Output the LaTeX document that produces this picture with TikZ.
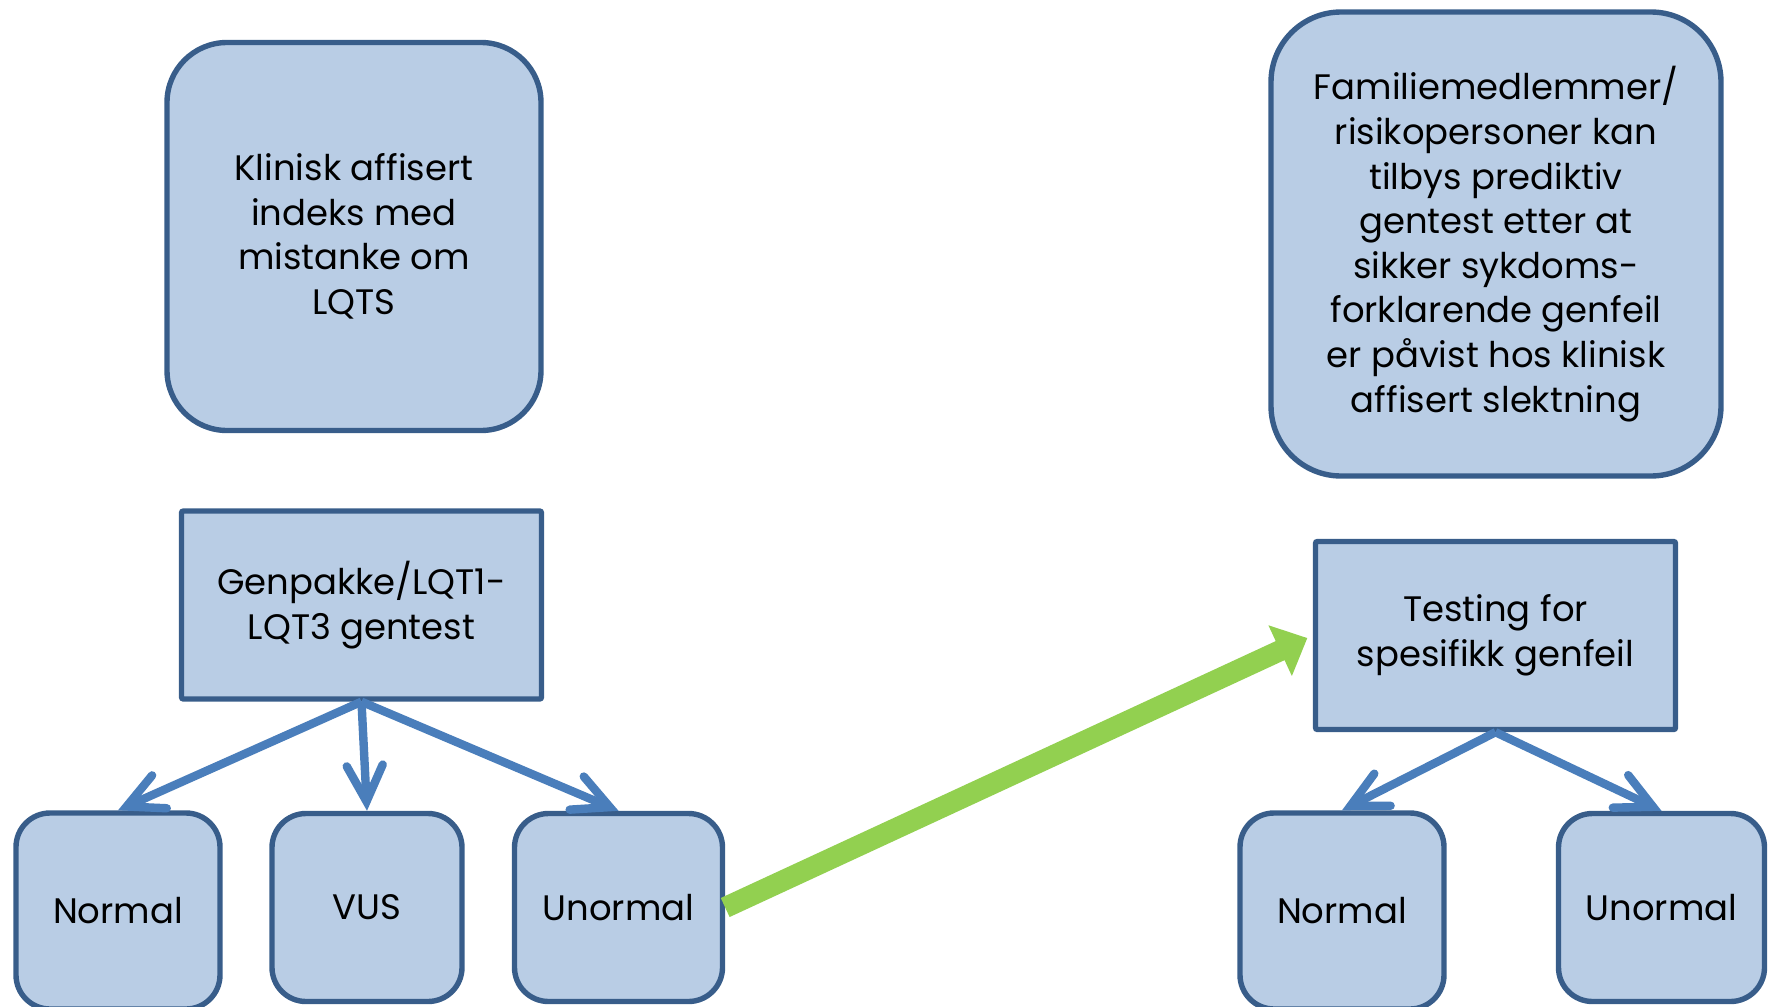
\documentclass[tikz,border=0pt]{standalone}
\usepackage{fontspec}
\setmainfont{Poppins}
\usetikzlibrary{arrows.meta,positioning}

\definecolor{boxfill}{RGB}{185,205,229}
\definecolor{boxline}{RGB}{56,93,138}
\definecolor{fanblue}{RGB}{74,126,187}
\definecolor{leadgreen}{RGB}{146,208,80}

\tikzset{every picture/.style={line width=0.75pt}}
\tikzset{
  flowbox/.style={draw=boxline, fill=boxfill, line width=2.7pt, align=center, inner sep=0pt,
    font=\fontsize{17.7}{22.3}\selectfont},
  roundbox/.style={flowbox, rounded corners=#1},
  testbox/.style={flowbox, rounded corners=1pt, minimum width=180pt, minimum height=94pt},
  resultbox/.style={flowbox, rounded corners=17pt, minimum height=94pt},
  fan/.style={draw=fanblue, line width=4.2pt,
    -{Straight Barb[length=18pt, width=18pt, line cap=round, line join=miter]}},
  lead/.style={draw=leadgreen, line width=10.5pt, shorten >=3pt,
    -{Triangle[length=15pt, width=27pt]}}
}

\begin{document}
\begin{tikzpicture}[x=0.5pt,y=0.5pt,yscale=-1,xscale=1]
  \useasboundingbox (0,0) rectangle (1773,1007);

  %Shape: Rounded Rect [index]
  \node [roundbox=30pt, minimum width=187pt, minimum height=194pt] (klinisk) at (354,236.5)
    {Klinisk affisert\\indeks med\\mistanke om\\LQTS};
  %Shape: Rounded Rect [family]
  \node [roundbox=35pt, minimum width=225pt, minimum height=232pt] (familie) at (1496,244)
    {Familiemedlemmer/\\risikopersoner kan\\tilbys prediktiv\\gentest etter at\\sikker sykdoms-\\forklarende genfeil\\er påvist hos klinisk\\affisert slektning};

  %Shape: Rectangle [tests]
  \node [testbox] (genpakke) at (361.5,605) {Genpakke/LQT1-\\LQT3 gentest};
  \node [testbox] (testing) at (1495.5,635.5) {Testing for\\spesifikk genfeil};

  %Shape: Rounded Rect [results]
  \node [resultbox, minimum width=102pt, minimum height=98pt] (normalA) at (118,911) {Normal};
  \node [resultbox, minimum width=95pt] (vus) at (367,907.5) {VUS};
  \node [resultbox, minimum width=104pt] (unormalA) at (618.5,907.5) {Unormal};
  \node [resultbox, minimum width=102pt, minimum height=98pt] (normalB) at (1342,911) {Normal};
  \node [resultbox, minimum width=103pt] (unormalB) at (1661.5,907.5) {Unormal};

  %Straight Lines [fan out]
  \draw [fan] (genpakke.south) -- (normalA.north);
  \draw [fan] (genpakke.south) -- (vus.north);
  \draw [fan] (genpakke.south) -- (unormalA.north);
  \draw [fan] (testing.south) -- (normalB.north);
  \draw [fan] (testing.south) -- (unormalB.north);

  %Straight Lines [to family testing]
  \draw [lead] (unormalA.east) -- (testing.west);
\end{tikzpicture}
\end{document}
